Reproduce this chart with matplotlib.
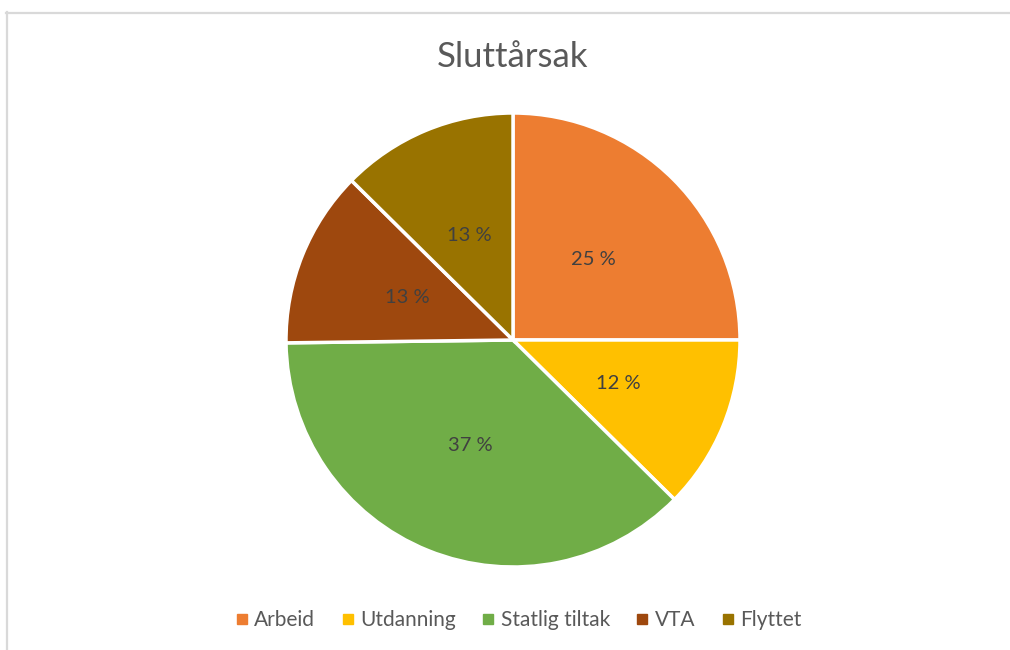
import matplotlib
matplotlib.use("Agg")
import matplotlib.pyplot as plt
from matplotlib.lines import Line2D

categories = ["Arbeid", "Utdanning", "Statlig tiltak", "VTA", "Flyttet"]
values = [25.0, 12.4, 37.4, 12.6, 12.6]
pct_labels = ["25 %", "12 %", "37 %", "13 %", "13 %"]
colors = ["#ED7D31", "#FFC000", "#70AD47", "#9E480E", "#997300"]
title = "Sluttårsak"

plt.rcParams['font.family'] = ['Lato', 'DejaVu Sans']

W, H = 1010, 650
fig = plt.figure(figsize=(W / 100, H / 100), dpi=100)
fig.patch.set_facecolor("white")

# frame lines (top and left) like the screenshot
fig.add_artist(Line2D([6 / W, 1.0], [1 - 12.5 / H] * 2, transform=fig.transFigure,
                      color="#d9d9d9", lw=1.6))
fig.add_artist(Line2D([6.5 / W] * 2, [0, 1 - 12 / H], transform=fig.transFigure,
                      color="#d9d9d9", lw=1.6))

cx, cy, r = 513, 340, 227
ax = fig.add_axes([(cx - r) / W, (H - cy - r) / H, 2 * r / W, 2 * r / H])
wedges, texts = ax.pie(values, colors=colors, startangle=90, counterclock=False,
                       radius=1.0, labels=pct_labels, labeldistance=0.5,
                       wedgeprops=dict(edgecolor="white", linewidth=2.5),
                       textprops=dict(color="#404040", fontsize=14.5, ha="center", va="center"))
ax.set_xlim(-1.0, 1.0)
ax.set_ylim(-1.0, 1.0)
ax.set_aspect("equal")
ax.axis("off")
for w in wedges:
    w.set_clip_on(False)

fig.text(cx / W, 1 - 57 / H, title, ha="center", va="center", fontsize=25, color="#595959")

handles = [Line2D([], [], marker="s", linestyle="none", markersize=6.5,
                  markerfacecolor=c, markeredgecolor=c) for c in colors]
leg = fig.legend(handles, categories, loc="center", bbox_to_anchor=(519 / W, 1 - 620 / H),
                 ncol=5, frameon=False, fontsize=15, handlelength=0.5, handletextpad=0.35,
                 columnspacing=1.3, labelcolor="#595959")

fig.savefig("out.png", dpi=100, facecolor="white")
